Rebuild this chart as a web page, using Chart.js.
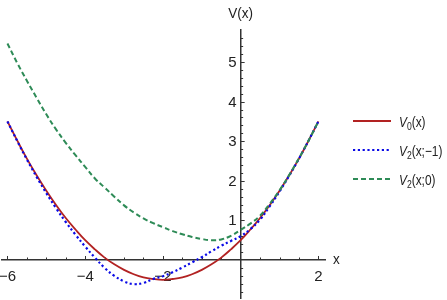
<!DOCTYPE html>
<html>
<head>
<meta charset="utf-8">
<script src="https://cdn.jsdelivr.net/npm/chart.js@4.4.0/dist/chart.umd.min.js"></script>
<style>
  html, body { margin: 0; padding: 0; background: #fff; }
  canvas { display: block; }
</style>
</head>
<body>
<canvas id="chart" width="447" height="300"></canvas>
<script>
// sample points along x
const xs = [-6, -5.75, -5.5, -5.25, -5, -4.75, -4.5, -4.25, -4, -3.75, -3.5, -3.25, -3, -2.75, -2.5, -2.25,
            -2, -1.75, -1.5, -1.25, -1, -0.75, -0.5, -0.25, 0, 0.25, 0.5, 0.75, 1, 1.25, 1.5, 1.75, 2];

// V0(x)
const v0 = [3.50, 3.02, 2.56, 2.14, 1.75, 1.39, 1.06, 0.77, 0.50, 0.27, 0.06, -0.11, -0.25, -0.36, -0.44, -0.48,
            -0.50, -0.48, -0.44, -0.36, -0.25, -0.11, 0.06, 0.27, 0.50, 0.77, 1.06, 1.39, 1.75, 2.14, 2.56, 3.02, 3.50];

// V2(x;-1)
const v2m1 = [3.50, 3.01, 2.54, 2.10, 1.69, 1.31, 0.96, 0.64, 0.34, 0.06, -0.20, -0.40, -0.54, -0.61, -0.58, -0.48,
              -0.41, -0.31, -0.19, -0.06, 0.07, 0.22, 0.36, 0.48, 0.60, 0.78, 1.02, 1.36, 1.73, 2.13, 2.56, 3.02, 3.50];

// V2(x;0)
const v2z = [5.47, 4.98, 4.53, 4.10, 3.68, 3.30, 2.96, 2.65, 2.35, 2.06, 1.83, 1.60, 1.38, 1.20, 1.05, 0.93,
             0.83, 0.73, 0.65, 0.58, 0.53, 0.50, 0.52, 0.61, 0.76, 0.92, 1.12, 1.42, 1.76, 2.15, 2.57, 3.02, 3.50];

const xTickValues = [-6, -5.5, -5, -4.5, -4, -3.5, -3, -2.5, -2, -1.5, -1, -0.5, 0.5, 1, 1.5, 2];
const xTickLabels = [-6, -4, -2, 2];
const yTickValues = [-0.8, -0.6, -0.4, -0.2, 0.2, 0.4, 0.6, 0.8, 1, 1.2, 1.4, 1.6, 1.8, 2, 2.2, 2.4, 2.6, 2.8,
                     3, 3.2, 3.4, 3.6, 3.8, 4, 4.2, 4.4, 4.6, 4.8, 5, 5.2, 5.4, 5.6];
const yTickLabels = [1, 2, 3, 4, 5];

const seriesSubs = ['0', '2', '2'];
const seriesArgs = ['(x)', '(x;\u22121)', '(x;0)'];
const seriesColors = ['#b22222', '#0a0ae6', '#2e8b57'];
const seriesDash = [[], [2.2, 2.6], [5, 3]];

const FONT = '"Liberation Sans", Arial, sans-serif';
const AXIS_COLOR = '#333';

const toPoints = ys => xs.map((x, i) => ({ x: x, y: ys[i] }));
const fmt = v => (v < 0 ? '\u2212' + (-v) : String(v));

// draws text squeezed horizontally (the original uses a narrow face)
function narrowText(ctx, text, x, y, sx) {
  ctx.save();
  ctx.translate(x, y);
  ctx.scale(sx, 1);
  ctx.fillText(text, 0, 0);
  ctx.restore();
  return ctx.measureText(text).width * sx;
}

const axisDecor = {
  id: 'axisDecor',
  beforeDatasetsDraw(chart) {
    const { ctx, scales: { x, y } } = chart;
    const x0 = x.getPixelForValue(0);
    const y0 = y.getPixelForValue(0);
    ctx.save();
    ctx.strokeStyle = AXIS_COLOR;
    ctx.lineWidth = 1;
    x.ticks.forEach(t => {
      const px = Math.round(x.getPixelForValue(t.value)) + 0.5;
      const len = xTickLabels.includes(t.value) ? 4 : 2.5;
      ctx.beginPath();
      ctx.moveTo(px, y0);
      ctx.lineTo(px, y0 - len);
      ctx.stroke();
    });
    ctx.fillStyle = '#222';
    ctx.font = '15px ' + FONT;
    ctx.textAlign = 'right';
    ctx.textBaseline = 'middle';
    y.ticks.forEach(t => {
      const py = Math.round(y.getPixelForValue(t.value)) + 0.5;
      const major = yTickLabels.includes(t.value);
      ctx.beginPath();
      ctx.moveTo(x0, py);
      ctx.lineTo(x0 + (major ? 4 : 2.5), py);
      ctx.stroke();
      if (major) {
        ctx.fillText(fmt(t.value), x0 - 4, py + 0.5);
      }
    });
    ctx.restore();
  },
  afterDraw(chart) {
    const { ctx, chartArea, scales: { x, y } } = chart;
    const x0 = x.getPixelForValue(0);
    const y0 = y.getPixelForValue(0);
    ctx.save();
    ctx.fillStyle = '#222';
    ctx.font = '15px ' + FONT;
    ctx.textBaseline = 'middle';
    ctx.textAlign = 'center';
    narrowText(ctx, 'V(x)', x0, 14, 0.9);
    ctx.textAlign = 'left';
    narrowText(ctx, 'x', chartArea.right + 8, y0, 0.9);

    // legend
    const lx = chartArea.right + 28;
    seriesArgs.forEach((arg, i) => {
      const ly = chart.height / 2 - 29 + i * 29;
      ctx.strokeStyle = seriesColors[i];
      ctx.lineWidth = 2;
      ctx.setLineDash(seriesDash[i]);
      ctx.beginPath();
      ctx.moveTo(lx, ly);
      ctx.lineTo(lx + 38, ly);
      ctx.stroke();
      ctx.setLineDash([]);

      let tx = lx + 46;
      const base = ly + 5.5;
      ctx.textBaseline = 'alphabetic';
      ctx.font = 'italic 14.5px ' + FONT;
      tx += narrowText(ctx, 'V', tx, base, 0.82);
      ctx.font = '10.5px ' + FONT;
      tx += narrowText(ctx, seriesSubs[i], tx, base + 3, 0.82);
      ctx.font = '14.5px ' + FONT;
      narrowText(ctx, arg, tx, base, 0.82);
    });
    ctx.restore();
  }
};

new Chart(document.getElementById('chart'), {
  type: 'line',
  data: {
    datasets: [
      { label: 'V0(x)', data: toPoints(v0), borderColor: seriesColors[0], borderWidth: 1.8, borderDash: seriesDash[0], order: 3 },
      { label: 'V2(x;-1)', data: toPoints(v2m1), borderColor: seriesColors[1], borderWidth: 2.2, borderDash: seriesDash[1], order: 2 },
      { label: 'V2(x;0)', data: toPoints(v2z), borderColor: seriesColors[2], borderWidth: 2, borderDash: seriesDash[2], order: 1 }
    ]
  },
  options: {
    responsive: false,
    animation: false,
    devicePixelRatio: 1,
    elements: {
      point: { radius: 0 },
      line: { tension: 0.4, fill: false }
    },
    layout: { padding: { left: 2, right: 122, top: 30, bottom: 2 } },
    plugins: {
      legend: { display: false },
      tooltip: { enabled: false }
    },
    scales: {
      x: {
        type: 'linear',
        min: -6.14,
        max: 2.17,
        position: { y: 0 },
        z: 1,
        grid: { display: false, drawTicks: false },
        border: { display: true, color: AXIS_COLOR, width: 1.5 },
        afterBuildTicks: s => { s.ticks = xTickValues.map(v => ({ value: v })); },
        afterFit: s => { s.paddingLeft = 0; s.paddingRight = 0; },
        ticks: {
          autoSkip: false,
          maxRotation: 0,
          padding: 8,
          color: '#222',
          font: { family: FONT, size: 15 },
          callback: v => (xTickLabels.includes(v) ? fmt(v) : '')
        }
      },
      y: {
        type: 'linear',
        min: -0.96,
        max: 5.81,
        position: { x: 0 },
        grid: { display: false, drawTicks: false },
        border: { display: true, color: AXIS_COLOR, width: 1.5 },
        afterBuildTicks: s => { s.ticks = yTickValues.map(v => ({ value: v })); },
        afterFit: s => { s.paddingTop = 0; s.paddingBottom = 0; },
        ticks: { display: false, autoSkip: false }
      }
    }
  },
  plugins: [axisDecor]
});
</script>
</body>
</html>
